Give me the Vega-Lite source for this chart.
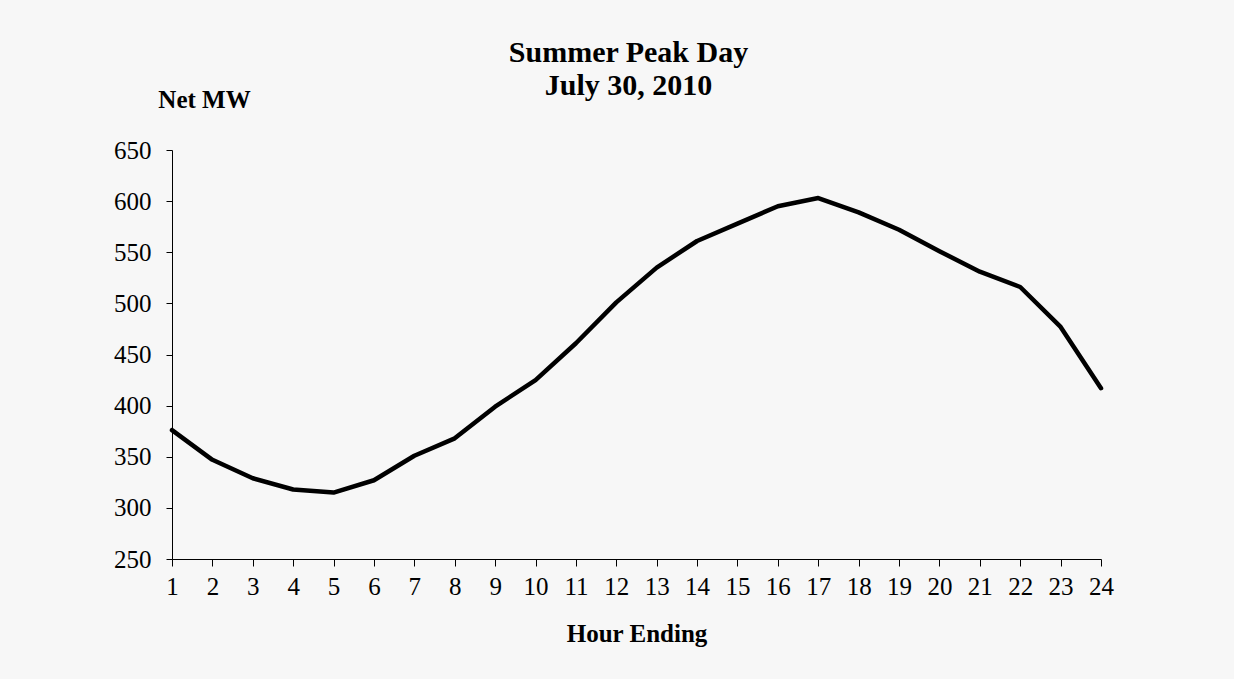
{
  "$schema": "https://vega.github.io/schema/vega-lite/v6.json",
  "autosize": "none",
  "width": 929,
  "height": 409,
  "padding": {"left": 172, "top": 150, "right": 133, "bottom": 120},
  "background": "#f7f7f7",
  "title": {
    "text": ["Summer Peak Day", "July 30, 2010"],
    "font": "Liberation Serif",
    "fontSize": 30,
    "fontWeight": "bold",
    "color": "#000000",
    "lineHeight": 33,
    "anchor": "middle",
    "frame": "group",
    "baseline": "alphabetic",
    "offset": 57,
    "dx": -8,
    "dy": 95
  },
  "data": {
    "values": [
      {"hour": 1, "mw": 376},
      {"hour": 2, "mw": 347},
      {"hour": 3, "mw": 329},
      {"hour": 4, "mw": 318},
      {"hour": 5, "mw": 315},
      {"hour": 6, "mw": 327},
      {"hour": 7, "mw": 351},
      {"hour": 8, "mw": 368},
      {"hour": 9, "mw": 399},
      {"hour": 10, "mw": 425},
      {"hour": 11, "mw": 461},
      {"hour": 12, "mw": 501},
      {"hour": 13, "mw": 535},
      {"hour": 14, "mw": 561},
      {"hour": 15, "mw": 578},
      {"hour": 16, "mw": 595},
      {"hour": 17, "mw": 603},
      {"hour": 18, "mw": 589},
      {"hour": 19, "mw": 572},
      {"hour": 20, "mw": 551},
      {"hour": 21, "mw": 531},
      {"hour": 22, "mw": 516},
      {"hour": 23, "mw": 477},
      {"hour": 24, "mw": 417}
    ]
  },
  "mark": {"type": "line", "color": "#000000", "strokeWidth": 4.5, "strokeJoin": "round", "strokeCap": "round"},
  "encoding": {
    "x": {
      "field": "hour",
      "type": "quantitative",
      "scale": {"domain": [1, 24], "nice": false, "zero": false},
      "axis": {
        "title": "Hour Ending",
        "values": [1,2,3,4,5,6,7,8,9,10,11,12,13,14,15,16,17,18,19,20,21,22,23,24],
        "grid": false,
        "domainColor": "#000000",
        "tickColor": "#000000",
        "tickSize": 7,
        "labelPadding": 8,
        "labelFont": "Liberation Serif",
        "labelFontSize": 25,
        "labelColor": "#000000",
        "labelFlush": false,
        "labelOverlap": false,
        "titleFont": "Liberation Serif",
        "titleFontSize": 25,
        "titleFontWeight": "bold",
        "titleColor": "#000000",
        "titleBaseline": "alphabetic",
        "titleY": 82
      }
    },
    "y": {
      "field": "mw",
      "type": "quantitative",
      "scale": {"domain": [250, 650], "nice": false, "zero": false},
      "axis": {
        "title": "Net MW",
        "values": [250, 300, 350, 400, 450, 500, 550, 600, 650],
        "grid": false,
        "domainColor": "#000000",
        "tickColor": "#000000",
        "tickSize": 6,
        "labelPadding": 15,
        "labelFont": "Liberation Serif",
        "labelFontSize": 25,
        "labelColor": "#000000",
        "labelFlush": false,
        "labelOverlap": false,
        "titleFont": "Liberation Serif",
        "titleFontSize": 25,
        "titleFontWeight": "bold",
        "titleColor": "#000000",
        "titleAngle": 0,
        "titleAlign": "center",
        "titleBaseline": "alphabetic",
        "titleX": 32,
        "titleY": -43
      }
    }
  },
  "config": {"view": {"stroke": null}}
}
